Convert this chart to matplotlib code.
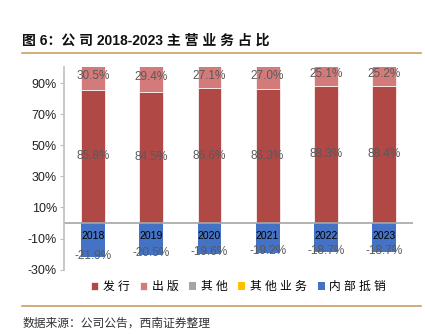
import matplotlib.pyplot as plt
import numpy as np

plt.rcParams['font.family'] = ['Liberation Sans', 'Noto Sans CJK SC', 'DejaVu Sans']

# datos
years = ['2018', '2019', '2020', '2021', '2022', '2023']
faxing = [85.8, 84.5, 86.6, 86.3, 88.3, 88.4]      # 发行
chuban = [30.5, 29.4, 27.1, 27.0, 25.1, 25.2]      # 出版
qita = [3.2, 4.1, 3.5, 3.4, 3.0, 2.8]              # 其他 (fuera de escala)
qita_yewu = [2.4, 2.5, 2.4, 2.5, 2.3, 2.3]         # 其他业务 (fuera de escala)
dixiao = [-21.9, -20.5, -19.6, -19.2, -18.7, -18.7]  # 内部抵销

c_fx = '#B04846'
c_cb = '#D27B7A'
c_qt = '#A5A5A5'
c_yw = '#FFC000'
c_dx = '#4472C4'

fig = plt.figure(figsize=(4.25, 3.34), dpi=100)
ax = fig.add_axes([0.1506, 0.1925, 0.8212, 0.6055])

x = np.arange(len(years))
w = 0.41
fx = np.array(faxing)
cb = np.array(chuban)
qt = np.array(qita)

ax.bar(x, faxing, w, color=c_fx, edgecolor='white', linewidth=0.5, label='发 行')
ax.bar(x, chuban, w, bottom=fx, color=c_cb, edgecolor='white', linewidth=0.5, label='出 版')
ax.bar(x, qita, w, bottom=fx + cb, color=c_qt, label='其 他')
ax.bar(x, qita_yewu, w, bottom=fx + cb + qt, color=c_yw, label='其 他 业 务')
ax.bar(x, dixiao, w, color=c_dx, label='内 部 抵 销')

ax.set_ylim(-30, 100)
ax.set_xlim(-0.5, len(years) - 0.5)
ax.set_yticks(np.arange(-30, 91, 20))
ax.set_yticklabels([f'{v}%' for v in range(-30, 91, 20)], fontsize=9, color='#222222')
ax.set_xticks([])
ax.axhline(0, color='#A6A6A6', linewidth=1.2)

for s in ['top', 'right', 'bottom']:
    ax.spines[s].set_visible(False)
ax.spines['left'].set_color('#BFBFBF')
ax.spines['left'].set_linewidth(1.2)
ax.tick_params(axis='y', length=3, color='#BFBFBF', pad=2)

lab_col = '#595959'
for i in range(len(years)):
    ax.text(x[i], faxing[i] / 2, f'{faxing[i]:.1f}%', ha='center', va='center',
            fontsize=8.5, color=lab_col)
    ax.text(x[i], (faxing[i] + 100) / 2 + 1.5, f'{chuban[i]:.1f}%', ha='center',
            va='center', fontsize=8.5, color=lab_col)
    ax.text(x[i], dixiao[i] + 1, f'{dixiao[i]:.1f}%', ha='center', va='center',
            fontsize=8.5, color=lab_col)
    ax.text(x[i], -8.5, years[i], ha='center', va='center', fontsize=7.5, color='black')

leg = ax.legend(loc='upper center', bbox_to_anchor=(0.5, -0.005), ncol=5, frameon=False,
                fontsize=8.5, handlelength=0.6, handleheight=0.6, handletextpad=0.4,
                columnspacing=0.9)

# titulo y lineas
fig.text(0.052, 0.877, '图 6：公 司 2018-2023 主 营 业 务 占 比', fontsize=10,
         fontweight='bold', ha='left', va='center', color='#111111')
fig.add_artist(plt.Line2D([0.052, 0.99], [0.842, 0.842], color='#C9A063', linewidth=1.2))
fig.add_artist(plt.Line2D([0.052, 0.99], [0.083, 0.083], color='#C9A063', linewidth=1.2))
fig.text(0.052, 0.032, '数据来源：公司公告，西南证券整理', fontsize=8.5, ha='left',
         va='center', color='#333333', style='italic')

fig.savefig('out.png', dpi=100)
